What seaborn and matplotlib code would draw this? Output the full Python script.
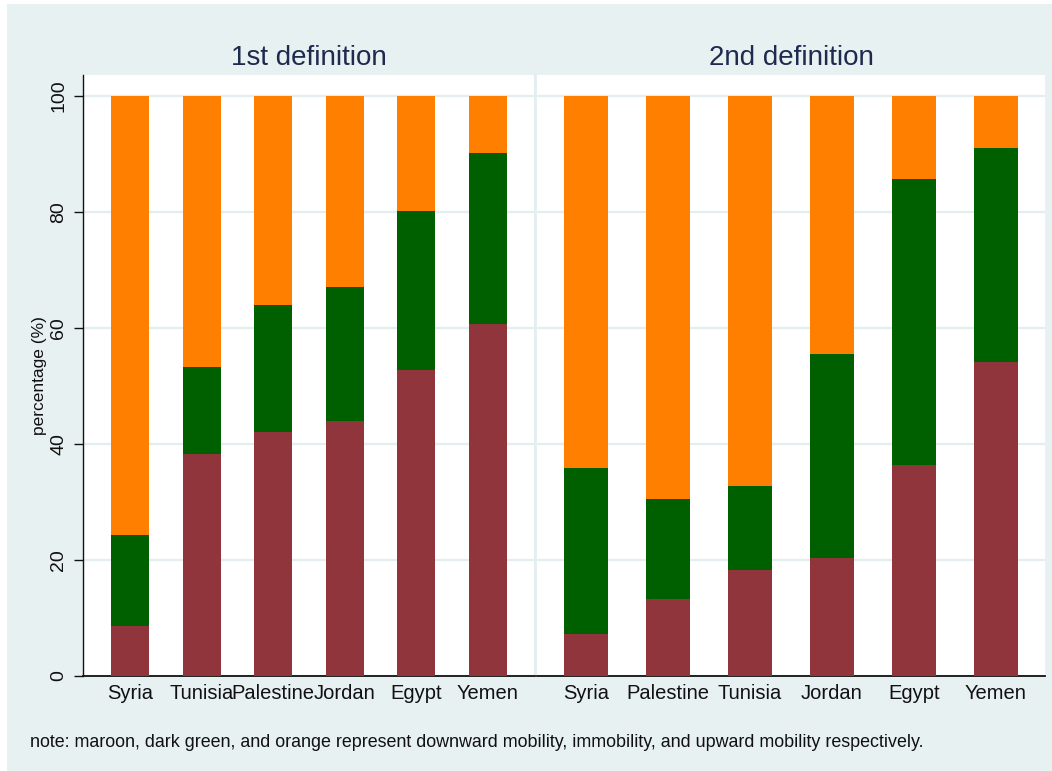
import matplotlib
matplotlib.use("Agg")
import matplotlib.pyplot as plt
from matplotlib.patches import Rectangle
import numpy as np
import pandas as pd
import seaborn as sns

# Mobility shares (%) by country, two definitions
countries_def1 = ["Syria", "Tunisia", "Palestine", "Jordan", "Egypt", "Yemen"]
downward_def1 = [8.6, 38.3, 42.1, 44.0, 52.8, 60.6]
immobility_def1 = [15.7, 14.9, 21.8, 23.1, 27.3, 29.6]
upward_def1 = [75.7, 46.8, 36.1, 32.9, 19.9, 9.8]

countries_def2 = ["Syria", "Palestine", "Tunisia", "Jordan", "Egypt", "Yemen"]
downward_def2 = [7.3, 13.2, 18.2, 20.4, 36.3, 54.2]
immobility_def2 = [28.5, 17.3, 14.5, 35.1, 49.3, 36.9]
upward_def2 = [64.2, 69.5, 67.3, 44.5, 14.4, 8.9]

panel_titles = ["1st definition", "2nd definition"]
y_ticks = [0, 20, 40, 60, 80, 100]
y_label = "percentage (%)"
note_text = ("note: maroon, dark green, and orange represent downward mobility, "
             "immobility, and upward mobility respectively.")

MAROON = "#90353B"
DKGREEN = "#006000"
ORANGE = "#FF8000"
REGION_BG = "#E8F1F2"
GRID_C = "#E3EEF0"
TITLE_C = "#1E2A4E"

sns.set_theme(style="white")
plt.rcParams["font.family"] = ["Liberation Sans", "DejaVu Sans"]

fig = plt.figure(figsize=(10.52, 7.71), dpi=100, facecolor="white")
W, H = 1052.0, 771.0
fig.patches.append(Rectangle((7 / W, 0), 1 - 7 / W, 1 - 4 / H,
                             transform=fig.transFigure, facecolor=REGION_BG,
                             edgecolor="none", zorder=-10))

bottom = 1 - 676 / H
height = 601 / H
ax1 = fig.add_axes([83 / W, bottom, 452 / W, height])
ax2 = fig.add_axes([537 / W, bottom, 508 / W, height], sharey=ax1)


def build_frame(countries, down, immob, up):
    df = pd.DataFrame({"country": countries, "down": down,
                       "immob": immob, "up": up})
    df["top_low"] = df["down"]
    df["top_mid"] = df["down"] + df["immob"]
    df["top_all"] = df["down"] + df["immob"] + df["up"]
    return df


panels = [
    (ax1, build_frame(countries_def1, downward_def1, immobility_def1, upward_def1),
     countries_def1, (-0.66, 5.66)),
    (ax2, build_frame(countries_def2, downward_def2, immobility_def2, upward_def2),
     countries_def2, (-0.6, 5.6)),
]

for ax, df, order, xlim in panels:
    ax.set_facecolor("white")
    for col, c in [("top_all", ORANGE), ("top_mid", DKGREEN), ("top_low", MAROON)]:
        sns.barplot(data=df, x="country", y=col, order=order, color=c,
                    saturation=1, width=0.53, errorbar=None, linewidth=0,
                    ax=ax, zorder=3)
    ax.set_xlim(*xlim)
    ax.set_ylim(0, 103.6)
    ax.set_yticks(y_ticks)
    ax.yaxis.grid(True, color=GRID_C, linewidth=1.6, zorder=0)
    ax.xaxis.grid(False)
    ax.set_axisbelow(True)
    ax.set_xlabel("")
    ax.set_ylabel("")
    ax.tick_params(axis="x", length=0, pad=6, labelsize=14.5, labelcolor="#111111")
    for s in ["top", "right", "left"]:
        ax.spines[s].set_visible(False)
    ax.spines["bottom"].set_color("#111111")
    ax.spines["bottom"].set_linewidth(1.3)

# shared y axis on the left panel only
ax1.spines["left"].set_visible(True)
ax1.spines["left"].set_color("#111111")
ax1.spines["left"].set_linewidth(1.0)
ax1.spines["right"].set_visible(True)
ax1.spines["right"].set_color(GRID_C)
ax1.spines["right"].set_linewidth(1.5)
ax1.tick_params(axis="y", left=True, length=6.5, width=1.0, color="#111111",
                pad=5, labelsize=14, labelcolor="#111111")
for lab in ax1.get_yticklabels():
    lab.set_rotation(90)
    lab.set_va("center")
ax1.set_ylabel(y_label, fontsize=12.5, color="#111111", labelpad=2)
ax2.tick_params(axis="y", left=False, labelleft=False)

for ax, title in zip([ax1, ax2], panel_titles):
    pos = ax.get_position()
    fig.text(pos.x0 + pos.width / 2, 1 - 58 / H, title, ha="center",
             va="center", fontsize=20, color=TITLE_C)

fig.text(30 / W, 1 - 747 / H, note_text, ha="left", va="baseline",
         fontsize=12.9, color="#111111")

fig.savefig("out.png", dpi=100, facecolor=fig.get_facecolor())
